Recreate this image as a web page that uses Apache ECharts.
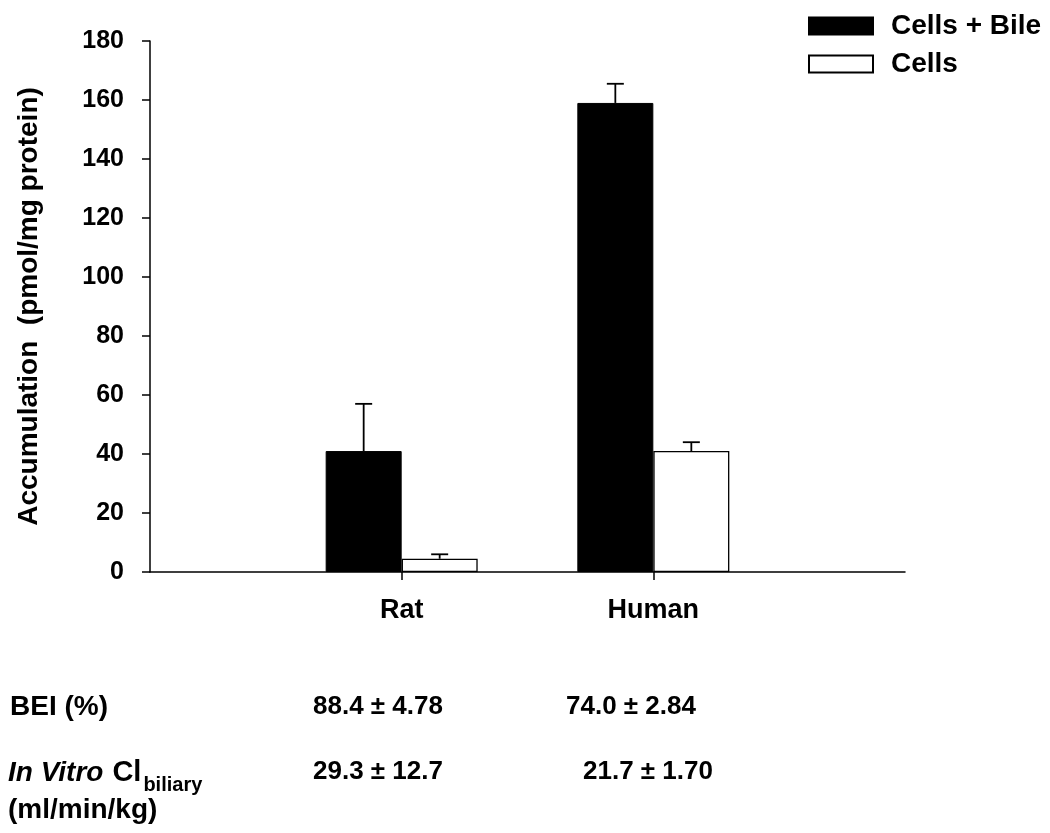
<!DOCTYPE html>
<html>
<head>
<meta charset="utf-8">
<script src="https://cdn.jsdelivr.net/npm/echarts@6/dist/echarts.min.js"></script>
<style>
  html, body { margin: 0; padding: 0; background: #fff; }
  #chart { width: 1050px; height: 833px; }
</style>
</head>
<body>
<div id="chart"></div>
<script>
// categories (empty ends give the axis its padding)
var categories = ['', 'Rat', 'Human', '']
var bileValues = [null, 41, 159, null]
var bileErrors = [null, 16, 6.5, null]
var cellValues = [null, 4.5, 41, null]
var cellErrors = [null, 1.5, 3, null]
var yTicks = { min: 0, max: 180, interval: 20 }

// table under the chart
var beiLabel = 'BEI (%)'
var beiValues = ['88.4 ± 4.78', '74.0 ± 2.84']
var clValues = ['29.3 ± 12.7', '21.7 ± 1.70']

var FONT = '"Liberation Sans", Arial, sans-serif'
var BAR_W = 76

function errData (vals, errs) {
  var out = []
  for (var i = 0; i < vals.length; i++) {
    if (vals[i] != null) out.push([i, vals[i], errs[i]])
  }
  return out
}

// 只画向上的误差线
function errSeries (vals, errs, offset) {
  return {
    type: 'custom',
    z: 5,
    silent: true,
    data: errData(vals, errs),
    renderItem: function (params, api) {
      var base = api.coord([api.value(0), api.value(1)])
      var top = api.coord([api.value(0), api.value(1) + api.value(2)])
      var x = base[0] + offset
      var style = { stroke: '#000', lineWidth: 1.8 }
      return {
        type: 'group',
        children: [
          { type: 'line', shape: { x1: x, y1: base[1], x2: x, y2: top[1] }, style: style },
          { type: 'line', shape: { x1: x - 8.5, y1: top[1], x2: x + 8.5, y2: top[1] }, style: style }
        ]
      }
    }
  }
}

var myChart = echarts.init(document.getElementById('chart'))
var tickShow = function (i) { return i === 1 || i === 2 }

myChart.setOption({
  animation: false,
  textStyle: { fontFamily: FONT },
  grid: { left: 150, right: 145, top: 41, bottom: 261 },
  legend: {
    orient: 'vertical',
    left: 808,
    top: 12,
    padding: 0,
    itemWidth: 64,
    itemHeight: 17,
    itemGap: 10,
    icon: 'rect',
    textStyle: { fontSize: 28, fontWeight: 'bold', color: '#000', fontFamily: FONT, padding: [0, 0, 0, 13] },
    data: ['Cells + Bile', 'Cells']
  },
  xAxis: {
    type: 'category',
    data: categories,
    boundaryGap: false,
    axisLine: { lineStyle: { color: '#000', width: 1.5 } },
    axisTick: { interval: tickShow, length: 8, lineStyle: { color: '#000', width: 1.5 } },
    axisLabel: { interval: tickShow, margin: 25, fontSize: 27, fontWeight: 'bold', color: '#000', fontFamily: FONT },
    splitLine: { show: false }
  },
  yAxis: {
    type: 'value',
    min: yTicks.min,
    max: yTicks.max,
    interval: yTicks.interval,
    name: 'Accumulation  (pmol/mg protein)',
    nameLocation: 'middle',
    nameGap: 107,
    nameTextStyle: { fontSize: 28, fontWeight: 'bold', color: '#000', fontFamily: FONT },
    axisLine: { show: true, lineStyle: { color: '#000', width: 1.5 } },
    axisTick: { show: true, length: 8, lineStyle: { color: '#000', width: 1.5 } },
    axisLabel: { margin: 26, fontSize: 25, fontWeight: 'bold', color: '#000', fontFamily: FONT },
    splitLine: { show: false }
  },
  series: [
    {
      name: 'Cells + Bile',
      type: 'bar',
      barWidth: BAR_W,
      barGap: '0%',
      data: bileValues,
      itemStyle: { color: '#000', borderColor: '#000', borderWidth: 1 }
    },
    {
      name: 'Cells',
      type: 'bar',
      barWidth: BAR_W,
      barGap: '0%',
      data: cellValues,
      itemStyle: { color: '#fff', borderColor: '#000', borderWidth: 1.3 }
    },
    errSeries(bileValues, bileErrors, -BAR_W / 2),
    errSeries(cellValues, cellErrors, BAR_W / 2)
  ],
  graphic: [
    { type: 'text', left: 10, top: 693, style: { text: beiLabel, font: 'bold 28px ' + FONT, fill: '#000' } },
    { type: 'text', left: 313, top: 694, style: { text: beiValues[0], font: 'bold 26px ' + FONT, fill: '#000' } },
    { type: 'text', left: 566, top: 694, style: { text: beiValues[1], font: 'bold 26px ' + FONT, fill: '#000' } },
    {
      type: 'text', left: 8, top: 758,
      style: {
        text: '{i|In Vitro}{n|Cl}{s|biliary}',
        fill: '#000',
        rich: {
          i: { font: 'italic bold 28px ' + FONT, verticalAlign: 'bottom' },
          n: { font: 'bold 29px ' + FONT, verticalAlign: 'bottom', padding: [0, 2, 0, 9] },
          s: { font: 'bold 20px ' + FONT, verticalAlign: 'bottom', padding: [0, 0, -8, 0] }
        }
      }
    },
    { type: 'text', left: 8, top: 796, style: { text: '(ml/min/kg)', font: 'bold 28px ' + FONT, fill: '#000' } },
    { type: 'text', left: 313, top: 759, style: { text: clValues[0], font: 'bold 26px ' + FONT, fill: '#000' } },
    { type: 'text', left: 583, top: 759, style: { text: clValues[1], font: 'bold 26px ' + FONT, fill: '#000' } }
  ]
})
</script>
</body>
</html>
